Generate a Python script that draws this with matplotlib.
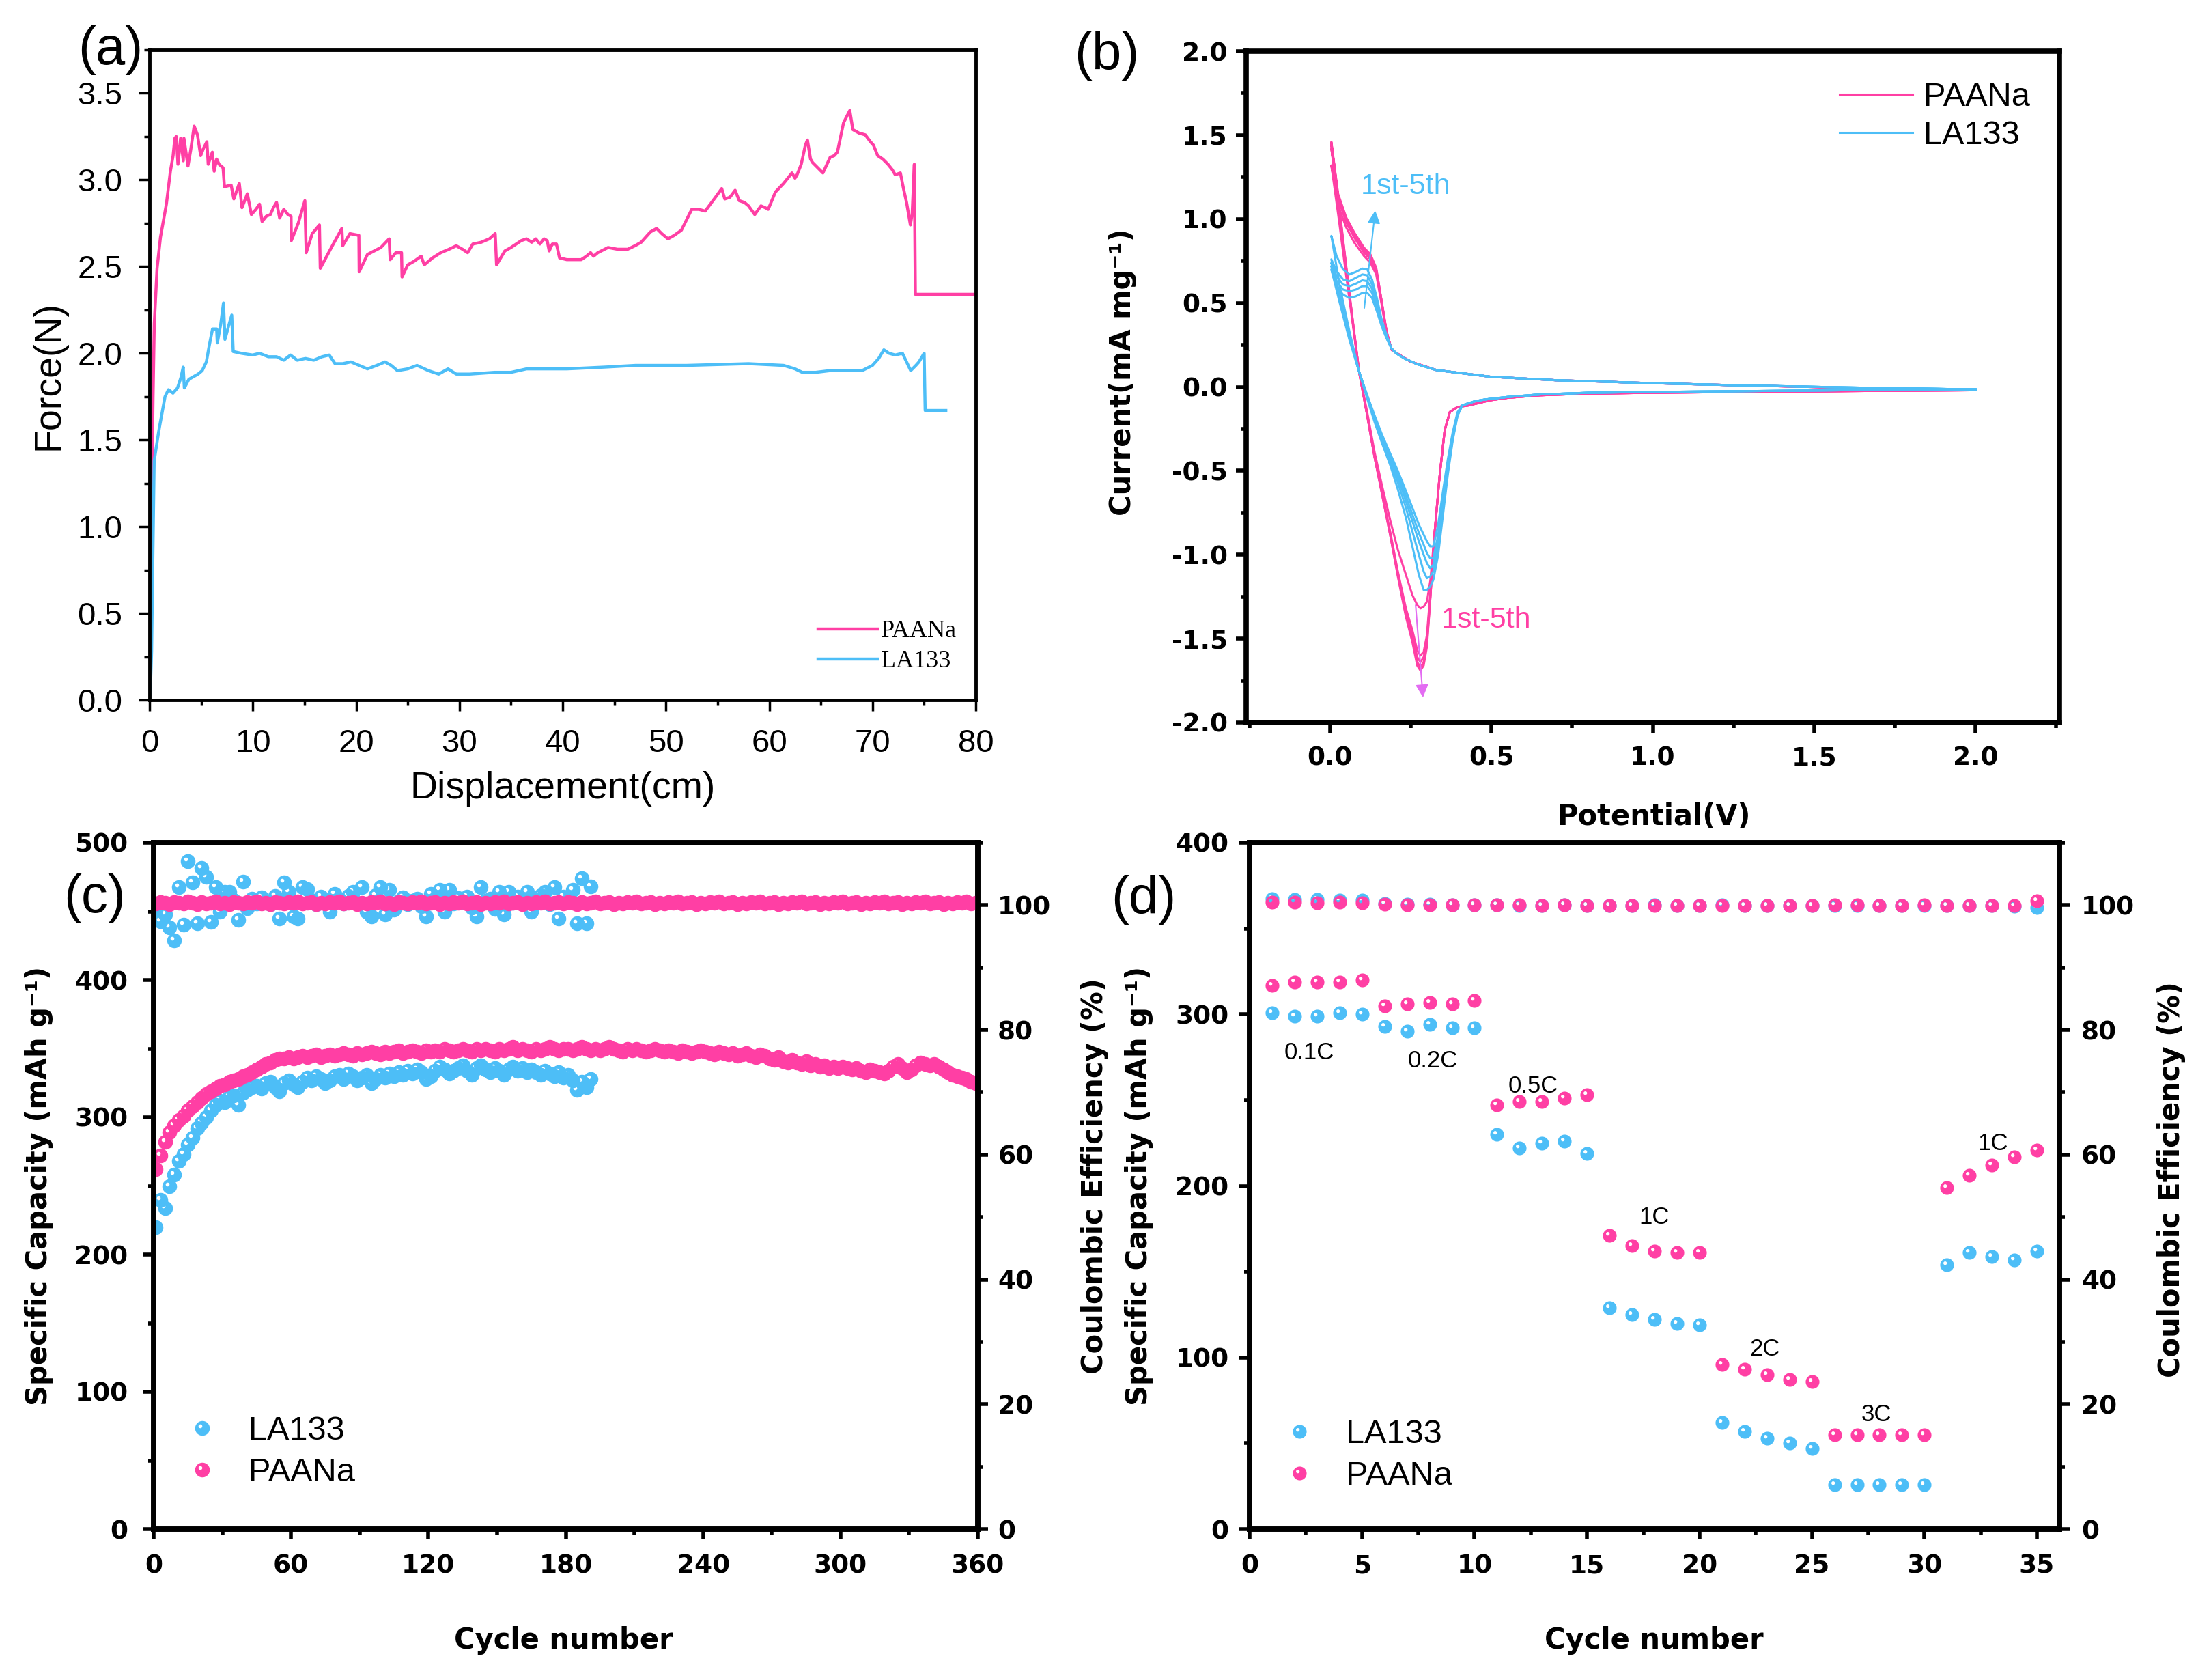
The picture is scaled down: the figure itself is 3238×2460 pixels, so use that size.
import numpy as np
import matplotlib
matplotlib.use('Agg')
import matplotlib.pyplot as plt
from matplotlib.path import Path
from matplotlib.ticker import MultipleLocator
from matplotlib.lines import Line2D
from matplotlib.font_manager import FontProperties

# ======================= DATA =======================
# (a) peel test: (displacement cm, force N)
a_paana = [(0, 0), (0.05, 0.3), (0.1, 0.7), (0.18, 1.02), (0.34, 1.75), (0.46, 2.17), (0.73, 2.49), (1.06, 2.67),
           (1.63, 2.86), (2.02, 3.05), (2.28, 3.14), (2.45, 3.24), (2.59, 3.25), (2.75, 3.09), (3.01, 3.24),
           (3.27, 3.11), (3.33, 3.24), (3.72, 3.08), (3.98, 3.17), (4.32, 3.31), (4.64, 3.26), (4.95, 3.14),
           (5.21, 3.18), (5.55, 3.22), (5.68, 3.09), (6.08, 3.16), (6.26, 3.05), (6.5, 3.12), (6.73, 3.09),
           (7.12, 3.07), (7.25, 2.96), (7.9, 2.97), (8.16, 2.89), (8.69, 2.98), (8.95, 2.84), (9.47, 2.92),
           (9.86, 2.80), (10.3, 2.83), (10.65, 2.86), (10.9, 2.76), (11.3, 2.79), (11.7, 2.80), (12.0, 2.84),
           (12.3, 2.87), (12.6, 2.78), (13.0, 2.83), (13.4, 2.80), (13.7, 2.79), (13.73, 2.65), (14.4, 2.75),
           (15.04, 2.88), (15.17, 2.58), (15.75, 2.69), (16.45, 2.74), (16.53, 2.49), (17.7, 2.62), (18.62, 2.72),
           (18.7, 2.62), (19.4, 2.69), (20.27, 2.68), (20.3, 2.47), (21.1, 2.57), (22.4, 2.61), (23.2, 2.66),
           (23.3, 2.54), (23.85, 2.58), (24.4, 2.58), (24.45, 2.44), (25.0, 2.51), (25.6, 2.53), (26.3, 2.56),
           (26.6, 2.51), (27.4, 2.55), (28.2, 2.58), (29.0, 2.60), (29.7, 2.62), (30.3, 2.60), (30.8, 2.58),
           (31.3, 2.63), (32.1, 2.64), (32.9, 2.66), (33.47, 2.69), (33.6, 2.51), (34.4, 2.59), (35.0, 2.61),
           (35.5, 2.63), (36.0, 2.65), (36.5, 2.66), (37.0, 2.64), (37.4, 2.66), (37.8, 2.63), (38.2, 2.66),
           (38.5, 2.65), (38.7, 2.59), (39.0, 2.63), (39.4, 2.63), (39.7, 2.55), (40.4, 2.54), (41.0, 2.54),
           (41.8, 2.54), (42.3, 2.56), (42.7, 2.58), (43.0, 2.56), (43.4, 2.58), (44.4, 2.61), (45.3, 2.60),
           (46.3, 2.60), (47.0, 2.62), (47.6, 2.64), (48.5, 2.70), (49.1, 2.72), (49.6, 2.69), (50.2, 2.66),
           (50.8, 2.68), (51.5, 2.71), (52.0, 2.77), (52.5, 2.83), (53.2, 2.83), (53.8, 2.82), (54.3, 2.86),
           (54.8, 2.90), (55.4, 2.95), (55.7, 2.89), (56.2, 2.90), (56.7, 2.94), (57.1, 2.88), (57.6, 2.87),
           (58.0, 2.85), (58.6, 2.80), (59.2, 2.85), (59.6, 2.84), (59.9, 2.83), (60.6, 2.93), (61.4, 2.98),
           (62.2, 3.04), (62.5, 3.01), (62.7, 3.03), (63.1, 3.09), (63.5, 3.20), (63.7, 3.23), (64.0, 3.12),
           (64.2, 3.10), (64.7, 3.07), (65.2, 3.04), (65.9, 3.13), (66.3, 3.14), (66.6, 3.16), (67.2, 3.33),
           (67.8, 3.40), (68.1, 3.29), (68.7, 3.27), (69.3, 3.26), (69.8, 3.22), (70.1, 3.20), (70.5, 3.14),
           (71.0, 3.12), (71.5, 3.09), (71.9, 3.06), (72.2, 3.03), (72.7, 3.04), (73.0, 2.95), (73.3, 2.87),
           (73.67, 2.74), (73.85, 2.81), (74.05, 3.09), (74.15, 2.34), (80.0, 2.34)]
a_la133 = [(0, 0), (0.1, 0.1), (0.2, 0.28), (0.33, 0.87), (0.45, 1.38), (0.84, 1.53), (0.95, 1.57), (1.5, 1.75),
           (1.83, 1.79), (2.27, 1.77), (2.71, 1.80), (3.04, 1.86), (3.26, 1.92), (3.37, 1.80), (3.81, 1.85),
           (4.7, 1.88), (5.1, 1.90), (5.5, 1.95), (5.8, 2.05), (6.1, 2.14), (6.5, 2.14), (6.56, 2.06),
           (6.9, 2.17), (7.16, 2.29), (7.3, 2.08), (7.67, 2.16), (7.96, 2.22), (8.1, 2.01), (8.88, 2.0),
           (9.98, 1.99), (10.65, 2.0), (11.5, 1.98), (12.3, 1.98), (13.0, 1.96), (13.65, 1.99), (14.3, 1.96),
           (15.1, 1.97), (15.9, 1.96), (16.7, 1.98), (17.4, 1.99), (17.96, 1.94), (18.7, 1.94), (19.5, 1.95),
           (20.3, 1.93), (21.1, 1.91), (22.0, 1.93), (22.8, 1.95), (23.4, 1.93), (24.0, 1.90), (25.0, 1.91),
           (25.9, 1.93), (27.0, 1.90), (28.0, 1.88), (28.9, 1.91), (29.7, 1.88), (31.0, 1.88), (33.4, 1.89),
           (35.0, 1.89), (36.5, 1.91), (40.4, 1.91), (44.0, 1.92), (47.06, 1.93), (52.0, 1.93), (58.0, 1.94),
           (61.4, 1.93), (62.5, 1.91), (63.2, 1.89), (64.5, 1.89), (65.9, 1.90), (69.0, 1.90), (70.0, 1.93),
           (70.6, 1.97), (71.1, 2.02), (71.6, 2.0), (72.2, 1.99), (72.9, 2.0), (73.3, 1.95), (73.7, 1.90),
           (74.2, 1.93), (74.5, 1.95), (75.0, 2.0), (75.1, 1.67), (77.1, 1.67)]

# (b) cyclic voltammetry, 5 cycles per binder
b_pa_cath_v = [2.0, 1.6, 1.3, 1.0, 0.8, 0.65, 0.55, 0.495, 0.43, 0.395, 0.371, 0.355, 0.339, 0.323, 0.311, 0.30,
               0.29, 0.28, 0.27, 0.255, 0.235, 0.21, 0.187, 0.16, 0.138, 0.115, 0.09, 0.07, 0.05, 0.027, 0.004]
b_pa_cath_i = [
    [-0.02, -0.025, -0.03, -0.035, -0.04, -0.05, -0.065, -0.08, -0.11, -0.12, -0.15, -0.26, -0.54, -0.89, -1.15,
     -1.28, -1.31, -1.32, -1.30, -1.24, -1.12, -0.97, -0.80, -0.58, -0.39, -0.15, 0.09, 0.38, 0.66, 1.00, 1.32],
    [-0.02, -0.025, -0.03, -0.035, -0.04, -0.05, -0.065, -0.08, -0.11, -0.12, -0.15, -0.26, -0.54, -0.89, -1.22,
     -1.48, -1.58, -1.60, -1.57, -1.45, -1.32, -1.10, -0.87, -0.62, -0.41, -0.17, 0.09, 0.39, 0.70, 1.07, 1.42],
    [-0.02, -0.025, -0.03, -0.035, -0.04, -0.05, -0.065, -0.08, -0.11, -0.12, -0.15, -0.26, -0.54, -0.89, -1.24,
     -1.51, -1.61, -1.64, -1.61, -1.48, -1.34, -1.11, -0.88, -0.62, -0.42, -0.17, 0.09, 0.39, 0.71, 1.08, 1.44],
    [-0.02, -0.025, -0.03, -0.035, -0.04, -0.05, -0.065, -0.08, -0.11, -0.12, -0.15, -0.26, -0.54, -0.89, -1.25,
     -1.53, -1.64, -1.67, -1.64, -1.50, -1.36, -1.12, -0.89, -0.63, -0.42, -0.17, 0.09, 0.40, 0.71, 1.09, 1.45],
    [-0.02, -0.025, -0.03, -0.035, -0.04, -0.05, -0.065, -0.08, -0.11, -0.12, -0.15, -0.26, -0.54, -0.89, -1.25,
     -1.55, -1.66, -1.69, -1.66, -1.52, -1.37, -1.13, -0.89, -0.63, -0.42, -0.17, 0.09, 0.40, 0.72, 1.10, 1.46],
]
b_pa_anod_v = [0.004, 0.025, 0.05, 0.075, 0.105, 0.125, 0.143, 0.159, 0.175, 0.191, 0.216, 0.25, 0.33, 0.5, 0.7,
               1.0, 1.3, 1.6, 2.0]
b_pa_anod_i = [
    [1.32, 1.08, 0.95, 0.86, 0.78, 0.74, 0.67, 0.50, 0.32, 0.22, 0.19, 0.15, 0.10, 0.06, 0.04, 0.022, 0.008, -0.005, -0.02],
    [1.42, 1.12, 0.98, 0.89, 0.80, 0.76, 0.69, 0.51, 0.33, 0.22, 0.19, 0.15, 0.10, 0.06, 0.04, 0.022, 0.008, -0.005, -0.02],
    [1.44, 1.13, 0.99, 0.90, 0.81, 0.77, 0.70, 0.52, 0.33, 0.22, 0.19, 0.15, 0.10, 0.06, 0.04, 0.022, 0.008, -0.005, -0.02],
    [1.45, 1.14, 1.00, 0.91, 0.82, 0.78, 0.70, 0.52, 0.33, 0.22, 0.19, 0.15, 0.10, 0.06, 0.04, 0.022, 0.008, -0.005, -0.02],
    [1.46, 1.15, 1.01, 0.92, 0.83, 0.79, 0.71, 0.52, 0.33, 0.22, 0.19, 0.15, 0.10, 0.06, 0.04, 0.022, 0.008, -0.005, -0.02],
]
b_la_cath_v = [2.0, 1.6, 1.3, 1.0, 0.8, 0.65, 0.55, 0.48, 0.45, 0.425, 0.41, 0.395, 0.38, 0.365, 0.35, 0.335,
               0.32, 0.31, 0.30, 0.29, 0.275, 0.255, 0.235, 0.21, 0.187, 0.16, 0.138, 0.115, 0.09, 0.06, 0.03, 0.004]
b_la_cath_i = [
    [-0.015, -0.02, -0.025, -0.03, -0.035, -0.045, -0.06, -0.075, -0.085, -0.10, -0.11, -0.15, -0.27, -0.43, -0.62,
     -0.82, -0.95, -0.95, -0.92, -0.88, -0.82, -0.72, -0.62, -0.50, -0.40, -0.28, -0.17, -0.05, 0.09, 0.28, 0.50, 0.70],
    [-0.015, -0.02, -0.025, -0.03, -0.035, -0.045, -0.06, -0.075, -0.085, -0.10, -0.11, -0.16, -0.29, -0.46, -0.66,
     -0.88, -1.02, -1.02, -0.99, -0.94, -0.87, -0.76, -0.65, -0.52, -0.41, -0.29, -0.18, -0.05, 0.09, 0.29, 0.52, 0.72],
    [-0.015, -0.02, -0.025, -0.03, -0.035, -0.045, -0.06, -0.075, -0.085, -0.10, -0.11, -0.16, -0.30, -0.48, -0.70,
     -0.92, -1.06, -1.08, -1.05, -1.00, -0.92, -0.80, -0.68, -0.54, -0.43, -0.30, -0.19, -0.06, 0.09, 0.30, 0.53, 0.74],
    [-0.015, -0.02, -0.025, -0.03, -0.035, -0.045, -0.06, -0.075, -0.085, -0.10, -0.11, -0.17, -0.31, -0.50, -0.73,
     -0.96, -1.10, -1.13, -1.14, -1.10, -1.00, -0.86, -0.72, -0.57, -0.45, -0.31, -0.20, -0.06, 0.09, 0.31, 0.55, 0.76],
    [-0.015, -0.02, -0.025, -0.03, -0.035, -0.045, -0.06, -0.075, -0.085, -0.10, -0.11, -0.17, -0.32, -0.52, -0.76,
     -1.00, -1.15, -1.19, -1.21, -1.21, -1.12, -0.95, -0.78, -0.61, -0.47, -0.33, -0.21, -0.07, 0.09, 0.33, 0.60, 0.90],
]
b_la_anod_v = [0.004, 0.02, 0.04, 0.06, 0.08, 0.10, 0.115, 0.13, 0.145, 0.16, 0.175, 0.19, 0.205, 0.23, 0.27, 0.33,
               0.5, 0.7, 1.0, 1.3, 1.6, 2.0]
b_la_anod_i = [
    [0.70, 0.60, 0.55, 0.53, 0.54, 0.56, 0.56, 0.53, 0.45, 0.36, 0.29, 0.23, 0.20, 0.17, 0.135, 0.10, 0.06, 0.04, 0.022, 0.008, -0.003, -0.015],
    [0.72, 0.63, 0.58, 0.57, 0.58, 0.60, 0.60, 0.56, 0.47, 0.37, 0.29, 0.23, 0.20, 0.17, 0.135, 0.10, 0.06, 0.04, 0.022, 0.008, -0.003, -0.015],
    [0.74, 0.66, 0.61, 0.60, 0.615, 0.635, 0.63, 0.585, 0.49, 0.38, 0.30, 0.23, 0.20, 0.17, 0.135, 0.10, 0.06, 0.04, 0.022, 0.008, -0.003, -0.015],
    [0.76, 0.69, 0.64, 0.63, 0.65, 0.67, 0.665, 0.61, 0.51, 0.39, 0.30, 0.23, 0.20, 0.17, 0.135, 0.10, 0.06, 0.04, 0.022, 0.008, -0.003, -0.015],
    [0.90, 0.78, 0.70, 0.67, 0.685, 0.705, 0.70, 0.64, 0.53, 0.40, 0.31, 0.23, 0.20, 0.17, 0.135, 0.10, 0.06, 0.04, 0.022, 0.008, -0.003, -0.015],
]

# (c) long cycling: capacity (mAh/g) and coulombic efficiency (%)
c_la_step = 2   # LA133 values every 2nd cycle starting at cycle 1
c_la_cap = [220, 240, 234, 250, 258, 268, 273, 280, 285, 292, 296, 300, 305, 309, 312, 311, 315, 316, 309, 318,
            320, 322, 323, 321, 325, 326, 322, 319, 325, 327, 324, 322, 326, 329, 327, 330, 328, 325, 327, 330,
            331, 328, 332, 330, 327, 329, 331, 325, 328, 331, 329, 332, 330, 333, 331, 334, 332, 335, 333, 328,
            330, 334, 337, 335, 332, 334, 336, 338, 334, 331, 336, 338, 335, 333, 336, 334, 331, 335, 337, 334,
            336, 333, 335, 333, 331, 334, 332, 330, 333, 329, 331, 327, 320, 326, 322, 328]
c_la_ce = [99.2, 97.4, 98.5, 96.4, 94.4, 102.9, 96.9, 107.0, 103.6, 97.1, 105.9, 104.5, 97.3, 102.9, 98.9, 102.1,
           102.1, 100.8, 97.6, 103.8, 99.5, 101.0, 100.3, 101.2, 100.6, 100.2, 101.5, 97.8, 103.6, 102.1, 98.2,
           97.8, 102.9, 102.6, 100.8, 100.2, 101.3, 100.5, 98.9, 101.8, 100.9, 100.3, 101.5, 102.1, 100.4, 102.9,
           99.0, 98.2, 101.6, 102.9, 98.5, 102.5, 99.3, 100.6, 101.2, 100.1, 100.7, 101.0, 99.8, 98.2, 101.8,
           100.9, 102.5, 98.9, 102.5, 100.3, 101.1, 100.5, 101.4, 99.6, 98.2, 102.9, 100.7, 101.0, 99.4, 102.1,
           98.5, 102.1, 100.4, 101.3, 100.6, 102.1, 98.9, 100.9, 101.6, 102.1, 100.2, 102.9, 97.8, 101.3, 100.5,
           102.5, 97.1, 104.3, 97.1, 103.0]
c_pa_step = 2   # PAANa values every 2nd cycle starting at cycle 1
c_pa_cap = [262, 272, 282, 289, 294, 298, 301, 305, 308, 311, 314, 317, 319, 321, 323, 324, 326, 327, 328, 330,
            331, 333, 335, 337, 339, 340, 342, 343, 343, 344,
            343, 344, 345, 344, 345, 346, 344, 345, 346, 345, 346, 347, 346, 345, 347, 346, 347, 348, 347, 346,
            348, 347, 348, 349, 347, 348, 349, 348, 347, 349,
            348, 349, 348, 350, 349, 348, 349, 350, 349, 348, 350, 349, 350, 349, 348, 350, 349, 350, 351, 349,
            350, 349, 348, 350, 349, 350, 351, 350, 349, 350,
            350, 349, 350, 351, 350, 349, 350, 349, 350, 351, 350, 349, 348, 350, 349, 350, 349, 348, 349, 350,
            349, 348, 349, 348, 347, 349, 348, 347, 348, 349,
            348, 347, 346, 348, 347, 346, 347, 345, 346, 347, 345, 344, 346, 345, 343, 342, 344, 341, 340, 342,
            340, 339, 341, 338, 339, 337, 338, 336, 337, 336,
            337, 336, 335, 336, 334, 333, 335, 334, 333, 332, 334, 337, 339, 336, 333, 335, 338, 340, 339, 338,
            339, 337, 335, 333, 331, 330, 329, 328, 326, 325]
c_pa_ce = [100.3, 100.5, 100.4, 100.2, 100.5, 100.4, 100.3, 100.6, 100.4, 100.2, 100.5, 100.3, 100.4, 100.6, 100.3,
           100.4, 100.2, 100.5, 100.4, 100.3, 100.5, 100.4, 100.6, 100.3, 100.4, 100.2, 100.5, 100.4, 100.3, 100.5,
           100.4, 100.6, 100.3, 100.4, 100.5, 100.2, 100.4, 100.3, 100.5, 100.4, 100.6, 100.3, 100.4, 100.5, 100.2,
           100.4, 100.3, 100.5, 100.4, 100.6, 100.3, 100.4, 100.2, 100.5, 100.4, 100.3, 100.5, 100.4, 100.6, 100.3,
           100.4, 100.5, 100.2, 100.4, 100.3, 100.5, 100.4, 100.6, 100.3, 100.4, 100.5, 100.2, 100.4, 100.3, 100.5,
           100.4, 100.6, 100.3, 100.4, 100.5, 100.2, 100.4, 100.3, 100.5, 100.4, 100.6, 100.3, 100.4, 100.5, 100.3,
           100.5, 100.4, 100.2, 100.5, 100.3, 100.4, 100.6, 100.3, 100.4, 100.5, 100.2, 100.4, 100.3, 100.5, 100.4,
           100.6, 100.3, 100.4, 100.5, 100.2, 100.4, 100.3, 100.5, 100.4, 100.6, 100.3, 100.4, 100.5, 100.2, 100.4,
           100.3, 100.5, 100.4, 100.6, 100.3, 100.4, 100.5, 100.2, 100.4, 100.3, 100.5, 100.4, 100.6, 100.3, 100.4,
           100.5, 100.2, 100.4, 100.3, 100.5, 100.4, 100.6, 100.3, 100.4, 100.5, 100.2, 100.4, 100.3, 100.5, 100.4,
           100.6, 100.3, 100.4, 100.5, 100.2, 100.4, 100.3, 100.5, 100.4, 100.6, 100.3, 100.4, 100.5, 100.2, 100.4,
           100.3, 100.5, 100.4, 100.6, 100.3, 100.4, 100.5, 100.2, 100.4, 100.3, 100.5, 100.4, 100.6, 100.3, 100.4]

# (d) rate capability
d_cycle = list(range(1, 36))
d_la_cap = [301, 299, 299, 301, 300, 293, 290, 294, 292, 292, 230, 222, 225, 226, 219, 129, 125, 122, 120, 119,
            62, 57, 53, 50, 47, 26, 26, 26, 26, 26, 154, 161, 159, 157, 162]
d_pa_cap = [317, 319, 319, 319, 320, 305, 306, 307, 306, 308, 247, 249, 249, 251, 253, 171, 165, 162, 161, 161,
            96, 93, 90, 87, 86, 55, 55, 55, 55, 55, 199, 206, 212, 217, 221]
d_la_ce = [101.0, 100.9, 100.9, 100.8, 100.8, 100.3, 100.1, 100.1, 100.0, 100.0, 100.0, 99.9, 99.9, 100.0, 99.9,
           99.9, 99.9, 100.0, 99.9, 99.9, 100.0, 99.9, 99.9, 99.9, 99.9, 99.9, 99.9, 99.9, 99.9, 99.9, 99.9, 99.9,
           99.9, 99.8, 99.6]
d_pa_ce = [100.5, 100.5, 100.4, 100.5, 100.4, 100.1, 100.0, 100.0, 100.0, 100.0, 100.0, 100.0, 99.9, 100.0, 99.9,
           99.9, 99.9, 99.9, 99.9, 99.9, 99.9, 99.9, 99.9, 99.9, 99.9, 100.0, 100.0, 99.9, 99.9, 100.0, 99.9, 99.9,
           99.9, 99.9, 100.7]
d_rate_text = ['0.1C', '0.2C', '0.5C', '1C', '2C', '3C', '1C']

# ======================= STYLE =======================
PINK = '#FF3FA4'
BLUE = '#4DBEF7'
VIOLET = '#E36CF2'
W, H = 3238, 2460

fp_a_tick = FontProperties(family=['Liberation Sans', 'DejaVu Sans'], size=34)
fp_a_lab = FontProperties(family=['Liberation Sans', 'DejaVu Sans'], size=40)
fp_a_leg = FontProperties(family=['Liberation Serif', 'DejaVu Serif'], size=26)
fp_bold_tick = FontProperties(family='DejaVu Sans', weight='bold', size=27)
fp_bold_lab = FontProperties(family='DejaVu Sans', weight='bold', size=30)
fp_reg_leg = FontProperties(family=['Liberation Sans', 'DejaVu Sans'], size=35)
fp_panel = FontProperties(family=['Liberation Sans', 'DejaVu Sans'], size=56)
fp_small = FontProperties(family=['Liberation Sans', 'DejaVu Sans'], size=25)
fp_cv_txt = FontProperties(family=['Liberation Sans', 'DejaVu Sans'], size=31)


def sphere_path():
    t = np.linspace(0, 2 * np.pi, 64)
    outer = np.column_stack([np.cos(t), np.sin(t)])
    ti = np.linspace(2 * np.pi, 0, 32)
    inner = np.column_stack([-0.28 + 0.26 * np.cos(ti), 0.28 + 0.26 * np.sin(ti)])
    verts = np.vstack([outer, [[0, 0]], inner, [[0, 0]]])
    codes = ([Path.MOVETO] + [Path.LINETO] * (len(outer) - 1) + [Path.CLOSEPOLY] +
             [Path.MOVETO] + [Path.LINETO] * (len(inner) - 1) + [Path.CLOSEPOLY])
    return Path(verts, codes)


SPHERE = sphere_path()


def rect(l, t, r, b):
    return [l / W, 1 - b / H, (r - l) / W, (b - t) / H]


def style_axis(ax, lw, tw, maj, mino, fp, padx, pady, right=False):
    for s in ax.spines.values():
        s.set_linewidth(lw)
    ax.tick_params(which='both', direction='out', width=tw, top=False, right=right)
    ax.tick_params(which='major', length=maj)
    ax.tick_params(which='minor', length=mino)
    ax.tick_params(axis='x', pad=padx)
    ax.tick_params(axis='y', pad=pady)
    for lbl in ax.get_xticklabels() + ax.get_yticklabels():
        lbl.set_fontproperties(fp)


fig = plt.figure(figsize=(W / 100, H / 100), dpi=100)

# ---------------- (a) ----------------
ax_a = fig.add_axes(rect(219, 73, 1429, 1025))
pa = np.array(a_paana)
la = np.array(a_la133)
ax_a.plot(pa[:, 0], pa[:, 1], color=PINK, lw=3.2, label='PAANa')
ax_a.plot(la[:, 0], la[:, 1], color=BLUE, lw=3.2, label='LA133')
ax_a.set_xlim(0, 80)
ax_a.set_ylim(0, 3.75)
ax_a.xaxis.set_major_locator(MultipleLocator(10))
ax_a.xaxis.set_minor_locator(MultipleLocator(5))
ax_a.yaxis.set_major_locator(MultipleLocator(0.5))
ax_a.yaxis.set_minor_locator(MultipleLocator(0.25))
ax_a.yaxis.set_major_formatter(matplotlib.ticker.FormatStrFormatter('%.1f'))
style_axis(ax_a, 3.5, 2.5, 11.5, 6, fp_a_tick, 19, 17)
ax_a.set_xlabel('Displacement(cm)', fontproperties=fp_a_lab, va='center')
ax_a.xaxis.set_label_coords(0.5, -0.1366)
ax_a.set_ylabel('Force(N)', fontproperties=fp_a_lab, va='center', ha='center')
ax_a.yaxis.set_label_coords(-0.122, 0.5)
ax_a.legend(loc='upper left', bbox_to_anchor=(0.809, 0.123), frameon=False, prop=fp_a_leg,
            handlelength=2.4, handletextpad=0.15, labelspacing=0.3, borderpad=0, borderaxespad=0)

# ---------------- (b) ----------------
ax_b = fig.add_axes(rect(1825, 75, 3016, 1058))
for k in range(5):
    ax_b.plot(b_pa_cath_v + b_pa_anod_v, b_pa_cath_i[k] + b_pa_anod_i[k], color=PINK, lw=2.2)
for k in range(5):
    ax_b.plot(b_la_cath_v + b_la_anod_v, b_la_cath_i[k] + b_la_anod_i[k], color=BLUE, lw=2.2)
ax_b.set_xlim(-0.26, 2.26)
ax_b.set_ylim(-2.0, 2.0)
ax_b.xaxis.set_major_locator(MultipleLocator(0.5))
ax_b.xaxis.set_minor_locator(MultipleLocator(0.25))
ax_b.yaxis.set_major_locator(MultipleLocator(0.5))
ax_b.yaxis.set_minor_locator(MultipleLocator(0.25))
ax_b.xaxis.set_major_formatter(matplotlib.ticker.FormatStrFormatter('%.1f'))
ax_b.yaxis.set_major_formatter(matplotlib.ticker.FormatStrFormatter('%.1f'))
style_axis(ax_b, 5.5, 4, 11, 6, fp_bold_tick, 14, 8.6)
ax_b.set_xlabel('Potential(V)', fontproperties=fp_bold_lab, va='center')
ax_b.xaxis.set_label_coords(0.501, -0.140)
ax_b.set_ylabel('Current(mA mg⁻¹)', fontproperties=fp_bold_lab, va='center', ha='center')
ax_b.yaxis.set_label_coords(-0.152, 0.522)
ax_b.annotate('', xy=(0.14, 1.05), xytext=(0.106, 0.47),
              arrowprops=dict(arrowstyle='-|>', color=BLUE, lw=1.5, mutation_scale=28, shrinkA=0, shrinkB=0))
ax_b.annotate('', xy=(0.288, -1.85), xytext=(0.265, -1.30),
              arrowprops=dict(arrowstyle='-|>', color=VIOLET, lw=1.5, mutation_scale=28, shrinkA=0, shrinkB=0))
ax_b.text(0.095, 1.195, '1st-5th', color=BLUE, fontproperties=fp_cv_txt, ha='left', va='center')
ax_b.text(0.344, -1.39, '1st-5th', color=PINK, fontproperties=fp_cv_txt, ha='left', va='center')
leg_b = [Line2D([], [], color=PINK, lw=2.2), Line2D([], [], color=BLUE, lw=2.2)]
ax_b.legend(leg_b, ['PAANa', 'LA133'], loc='upper left', bbox_to_anchor=(0.730, 0.954), frameon=False,
            prop=fp_reg_leg, handlelength=2.2, handletextpad=0.33, labelspacing=0.23, borderpad=0,
            borderaxespad=0)

# ---------------- (c) ----------------
ax_c = fig.add_axes(rect(225, 1234, 1432, 2239))
ax_c2 = ax_c.twinx()
c_la_cyc = np.arange(1, 1 + c_la_step * len(c_la_cap), c_la_step)
c_pa_cyc = np.arange(1, 1 + c_pa_step * len(c_pa_cap), c_pa_step)
c_la_ce_cyc = np.arange(1, 1 + c_la_step * len(c_la_ce), c_la_step)
c_pa_ce_cyc = np.arange(1, 1 + c_pa_step * len(c_pa_ce), c_pa_step)
MS_C = 15.5
ax_c.plot(c_la_cyc, c_la_cap, ls='none', marker=SPHERE, ms=MS_C, mfc=BLUE, mec='none')
ax_c.plot(c_pa_cyc, c_pa_cap, ls='none', marker=SPHERE, ms=MS_C, mfc=PINK, mec='none')
ax_c2.plot(c_la_ce_cyc, c_la_ce, ls='none', marker=SPHERE, ms=MS_C, mfc=BLUE, mec='none')
ax_c2.plot(c_pa_ce_cyc, c_pa_ce, ls='none', marker=SPHERE, ms=MS_C, mfc=PINK, mec='none')
ax_c.set_xlim(0, 360)
ax_c.set_ylim(0, 500)
ax_c2.set_ylim(0, 110)
ax_c.xaxis.set_major_locator(MultipleLocator(60))
ax_c.xaxis.set_minor_locator(MultipleLocator(30))
ax_c.yaxis.set_major_locator(MultipleLocator(100))
ax_c.yaxis.set_minor_locator(MultipleLocator(50))
ax_c2.yaxis.set_major_locator(MultipleLocator(20))
ax_c2.yaxis.set_minor_locator(MultipleLocator(10))
style_axis(ax_c, 5.5, 4, 11, 6, fp_bold_tick, 15, 16)
style_axis(ax_c2, 5.5, 4, 11, 6, fp_bold_tick, 15, 10, right=True)
ax_c.set_xlabel('Cycle number', fontproperties=fp_bold_lab, va='center')
ax_c.xaxis.set_label_coords(0.497, -0.162)
ax_c.set_ylabel('Specific Capacity (mAh g⁻¹)', fontproperties=fp_bold_lab, va='center', ha='center')
ax_c.yaxis.set_label_coords(-0.139, 0.5)
ax_c2.set_ylabel('Coulombic Efficiency (%)', fontproperties=fp_bold_lab, va='center', ha='center',
                 rotation=90)
ax_c2.yaxis.set_label_coords(1.142, 0.514)
leg_c = [Line2D([], [], ls='none', marker=SPHERE, ms=MS_C, mfc=BLUE, mec='none'),
         Line2D([], [], ls='none', marker=SPHERE, ms=MS_C, mfc=PINK, mec='none')]
ax_c2.legend(leg_c, ['LA133', 'PAANa'], loc='upper left', bbox_to_anchor=(0.039, 0.165), frameon=False,
             prop=fp_reg_leg, handlelength=1.0, handletextpad=0.9, labelspacing=0.32, borderpad=0,
             borderaxespad=0)

# ---------------- (d) ----------------
ax_d = fig.add_axes(rect(1830, 1234, 3016, 2239))
ax_d2 = ax_d.twinx()
MS_D = 14.5
ax_d.plot(d_cycle, d_la_cap, ls='none', marker=SPHERE, ms=MS_D, mfc=BLUE, mec='none')
ax_d.plot(d_cycle, d_pa_cap, ls='none', marker=SPHERE, ms=MS_D, mfc=PINK, mec='none')
ax_d2.plot(d_cycle, d_la_ce, ls='none', marker=SPHERE, ms=MS_D, mfc=BLUE, mec='none')
ax_d2.plot(d_cycle, d_pa_ce, ls='none', marker=SPHERE, ms=MS_D, mfc=PINK, mec='none')
ax_d.set_xlim(0, 36)
ax_d.set_ylim(0, 400)
ax_d2.set_ylim(0, 110)
ax_d.xaxis.set_major_locator(MultipleLocator(5))
ax_d.xaxis.set_minor_locator(MultipleLocator(2.5))
ax_d.yaxis.set_major_locator(MultipleLocator(100))
ax_d.yaxis.set_minor_locator(MultipleLocator(50))
ax_d2.yaxis.set_major_locator(MultipleLocator(20))
ax_d2.yaxis.set_minor_locator(MultipleLocator(10))
style_axis(ax_d, 5.5, 4, 11, 6, fp_bold_tick, 15, 11)
style_axis(ax_d2, 5.5, 4, 11, 6, fp_bold_tick, 15, 12, right=True)
ax_d.set_xlabel('Cycle number', fontproperties=fp_bold_lab, va='center')
ax_d.xaxis.set_label_coords(0.499, -0.162)
ax_d.set_ylabel('Specific Capacity (mAh g⁻¹)', fontproperties=fp_bold_lab, va='center', ha='center')
ax_d.yaxis.set_label_coords(-0.137, 0.5)
ax_d2.set_ylabel('Coulombic Efficiency (%)', fontproperties=fp_bold_lab, va='center', ha='center',
                 rotation=90)
ax_d2.yaxis.set_label_coords(1.138, 0.509)
rate_pos = [(2.64, 277.5), (8.13, 272.7), (12.6, 258), (18.0, 181.6), (22.9, 104.9), (27.85, 66.5), (33.05, 224.8)]
for txt, (x, y) in zip(d_rate_text, rate_pos):
    ax_d.text(x, y, txt, fontproperties=fp_small, ha='center', va='center')
leg_d = [Line2D([], [], ls='none', marker=SPHERE, ms=MS_D, mfc=BLUE, mec='none'),
         Line2D([], [], ls='none', marker=SPHERE, ms=MS_D, mfc=PINK, mec='none')]
ax_d2.legend(leg_d, ['LA133', 'PAANa'], loc='upper left', bbox_to_anchor=(0.041, 0.160), frameon=False,
             prop=fp_reg_leg, handlelength=1.0, handletextpad=0.9, labelspacing=0.32, borderpad=0,
             borderaxespad=0)

# ---------------- panel labels ----------------
fig.text(162 / W, 1 - 73 / H, '(a)', fontproperties=fp_panel, ha='center', va='center')
fig.text(1621 / W, 1 - 82 / H, '(b)', fontproperties=fp_panel, ha='center', va='center')
fig.text(139 / W, 1 - 1316 / H, '(c)', fontproperties=fp_panel, ha='center', va='center')
fig.text(1675 / W, 1 - 1317 / H, '(d)', fontproperties=fp_panel, ha='center', va='center')

fig.savefig('out.png', dpi=100)
